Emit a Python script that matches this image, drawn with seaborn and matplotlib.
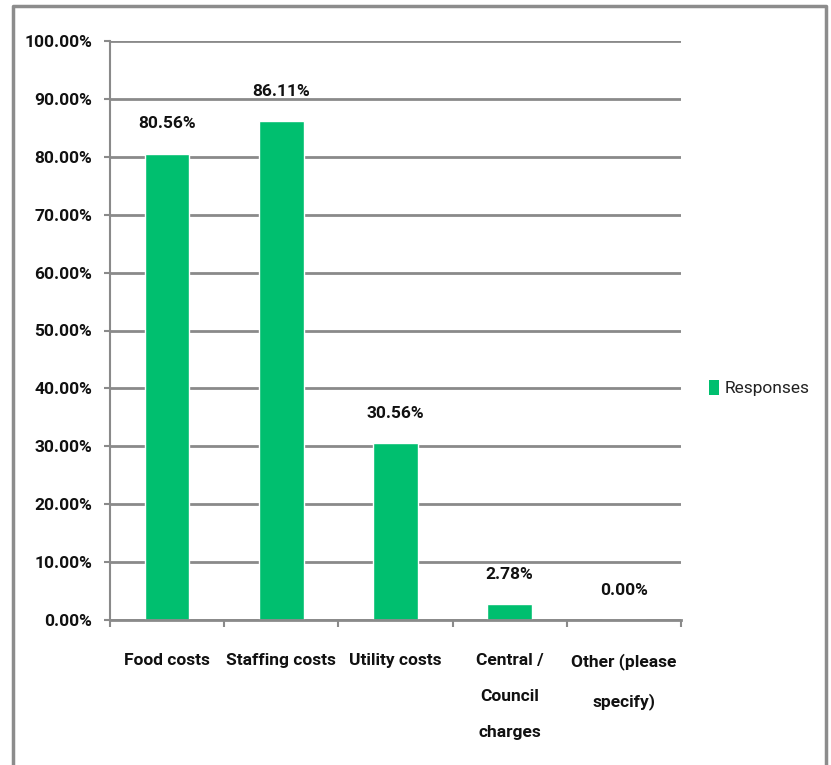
import matplotlib.pyplot as plt
import seaborn as sns
import pandas as pd
from matplotlib.lines import Line2D
from matplotlib.patches import Patch

categories = ['Food costs', 'Staffing costs', 'Utility costs',
              'Central /\nCouncil\ncharges', 'Other (please\nspecify)']
responses = [80.56, 86.11, 30.56, 2.78, 0.00]
y_ticks = [0, 10, 20, 30, 40, 50, 60, 70, 80, 90, 100]

GREEN = '#00BF6F'
GRID = '#8A8A8A'

sns.set_style('white')
plt.rcParams['font.family'] = ['Roboto', 'DejaVu Sans']

df = pd.DataFrame({'category': categories, 'value': responses})

W, H = 831, 765
fig = plt.figure(figsize=(W / 100, H / 100), dpi=100)
ax = fig.add_axes([110 / W, 1 - 620 / H, (681 - 110) / W, (620 - 41) / H])

sns.barplot(data=df, x='category', y='value', color=GREEN, width=0.39,
            saturation=1, ax=ax)

FS = 12.5
ax.set_ylim(0, 100)
ax.set_xlim(-0.5, len(categories) - 0.5)
ax.set_yticks(y_ticks)
ax.set_yticklabels([f'{t:.2f}%' for t in y_ticks], fontsize=FS,
                   fontweight='bold', color='#111111')
ax.set_xticks([i - 0.5 for i in range(len(categories) + 1)], minor=True)
ax.set_xticks(range(len(categories)))
ax.set_xticklabels(categories, fontsize=FS, fontweight='bold',
                   linespacing=2.75, va='top', color='#111111')
ax.tick_params(axis='x', which='major', length=0, pad=24, bottom=False)
ax.tick_params(axis='x', which='minor', length=5, color=GRID, width=1.5,
               bottom=True)
ax.tick_params(axis='y', length=4, color=GRID, width=1.5, pad=9, left=True)
ax.set_xlabel('')
ax.set_ylabel('')

ax.grid(axis='y', color=GRID, linewidth=2)
ax.set_axisbelow(True)
for s in ['top', 'right']:
    ax.spines[s].set_visible(False)
ax.spines['left'].set_color(GRID)
ax.spines['left'].set_linewidth(1.5)
ax.spines['bottom'].set_color(GRID)
ax.spines['bottom'].set_linewidth(2)

for i, v in enumerate(responses):
    ax.annotate(f'{v:.2f}%', (i, v), xytext=(0, 21.5), textcoords='offset points',
                ha='center', va='center', fontsize=FS, fontweight='bold',
                color='#111111')

handle = Patch(facecolor=GREEN, edgecolor='none')
fig.legend([handle], ['Responses'], loc='center left',
           bbox_to_anchor=(693 / W, 1 - 388 / H), frameon=False,
           fontsize=FS, handlelength=0.6, handleheight=1.0,
           handletextpad=0.3, labelcolor='#222222')

# outer chart border
fig.add_artist(Line2D([13 / W, 13 / W, 826 / W, 826 / W],
                      [0, 1 - 6 / H, 1 - 6 / H, 0],
                      color='#8C8C8C', linewidth=2.5))

fig.savefig('out.png', dpi=100)
